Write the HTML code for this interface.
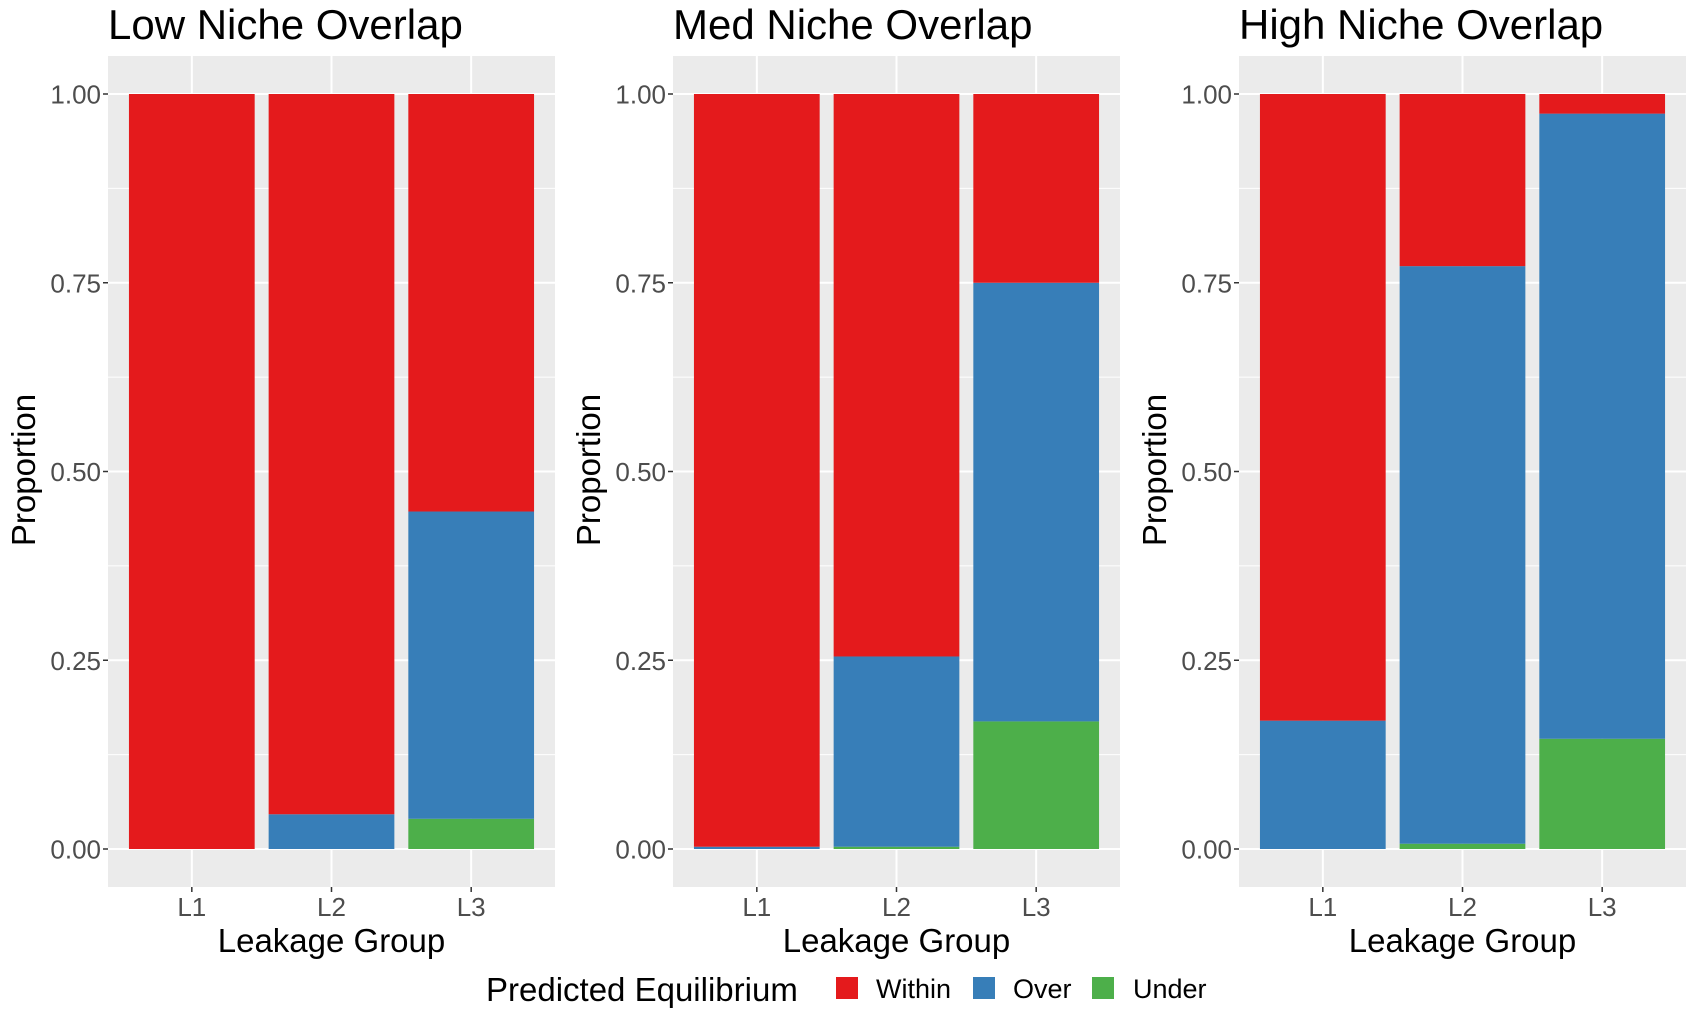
<!DOCTYPE html>
<html><head><meta charset="utf-8"><style>
body{margin:0;background:#fff;}
svg{display:block;font-family:"Liberation Sans",Arial,sans-serif;}
</style></head><body>
<svg id="chart" width="1694" height="1016" viewBox="0 0 1694 1016"></svg>
<script>
const panels = ["Low Niche Overlap","Med Niche Overlap","High Niche Overlap"];
const categories = ["L1","L2","L3"];
const seriesNames = ["Within","Over","Under"];
const underVals = [[0,0,0.04],[0,0.003,0.169],[0,0.007,0.146]];
const overVals = [[0,0.046,0.407],[0.003,0.252,0.581],[0.17,0.765,0.828]];
const withinVals = [[1,0.954,0.553],[0.997,0.745,0.25],[0.83,0.228,0.026]];
const yTicks = [0,0.25,0.5,0.75,1];
const yTickLabels = ["0.00","0.25","0.50","0.75","1.00"];
const colors = {Within:"#E41A1C",Over:"#377EB8",Under:"#4DAF4A"};

const NS="http://www.w3.org/2000/svg";
const svg=document.getElementById('chart');
function mk(tag,attrs,parent,text){const e=document.createElementNS(NS,tag);for(const k in attrs)e.setAttribute(k,attrs[k]);if(text!==undefined)e.textContent=text;(parent||svg).appendChild(e);return e;}
const panelLefts=[108,673,1239], pw=447, panelTop=56, panelBot=887;
const yScale=v=>849-v*755;
panels.forEach((title,pi)=>{
  const L=panelLefts[pi];
  const g=mk('g',{});
  
  
  const xScale=c=>L+(c+1-0.4)*pw/3.2;
  const bw=0.9*pw/3.2;
  const bg=mk('rect',{x:L,y:panelTop,width:pw,height:panelBot-panelTop,fill:'#EBEBEB'},g);
  
  
  for(let i=0;i<yTicks.length-1;i++){const m=(yTicks[i]+yTicks[i+1])/2;mk('line',{x1:L,x2:L+pw,y1:yScale(m),y2:yScale(m),stroke:'#fff','stroke-width':1},g);}
  yTicks.forEach((t,i)=>{
    mk('line',{x1:L,x2:L+pw,y1:yScale(t),y2:yScale(t),stroke:'#fff','stroke-width':2},g);
    mk('line',{x1:L-5,x2:L,y1:yScale(t),y2:yScale(t),stroke:'#333','stroke-width':1.5},g);
    const tl=mk('text',{x:L-7,y:yScale(t)+9.5,'text-anchor':'end','font-size':26,fill:'#4D4D4D'},g,yTickLabels[i]);
    
    
  });
  categories.forEach((c,ci)=>{
    mk('line',{x1:xScale(ci),x2:xScale(ci),y1:panelTop,y2:panelBot,stroke:'#fff','stroke-width':2},g);
    mk('line',{x1:xScale(ci),x2:xScale(ci),y1:panelBot,y2:panelBot+5,stroke:'#333','stroke-width':1.5},g);
    const xl=mk('text',{x:xScale(ci),y:916,'text-anchor':'middle','font-size':26,fill:'#4D4D4D'},g,c);
    
    
    let base=0;
    [["Under",underVals],["Over",overVals],["Within",withinVals]].forEach(([n,arr])=>{
      const v=arr[pi][ci];
      if(v>0){
        const r=mk('rect',{x:xScale(ci)-bw/2,y:yScale(base+v),width:bw,height:yScale(base)-yScale(base+v),fill:colors[n]},g);
        
        
      }
      base+=v;
    });
  });
  const t=mk('text',{x:L,y:39,'font-size':42,fill:'#000'},g,title);
  
  
  const yt=mk('text',{x:0,y:0,'font-size':33,'text-anchor':'middle',transform:`translate(${L-73},470) rotate(-90)`,fill:'#000'},g,'Proportion');
  
  
  const xt=mk('text',{x:L+pw/2,y:952,'font-size':33,'text-anchor':'middle',fill:'#000'},g,'Leakage Group');
  
  
});
const lg=mk('g',{});


const lt=mk('text',{x:486,y:1001,'font-size':33,fill:'#000'},lg,'Predicted Equilibrium');


const keyX=[836,973,1092], labX=[876,1013,1133];
seriesNames.forEach((n,i)=>{
  const k=mk('rect',{x:keyX[i],y:977,width:22,height:22,fill:colors[n]},lg);
  
  
  const tx=mk('text',{x:labX[i],y:998,'font-size':27,fill:'#000'},lg,n);
  
  
});
</script>
</body></html>
